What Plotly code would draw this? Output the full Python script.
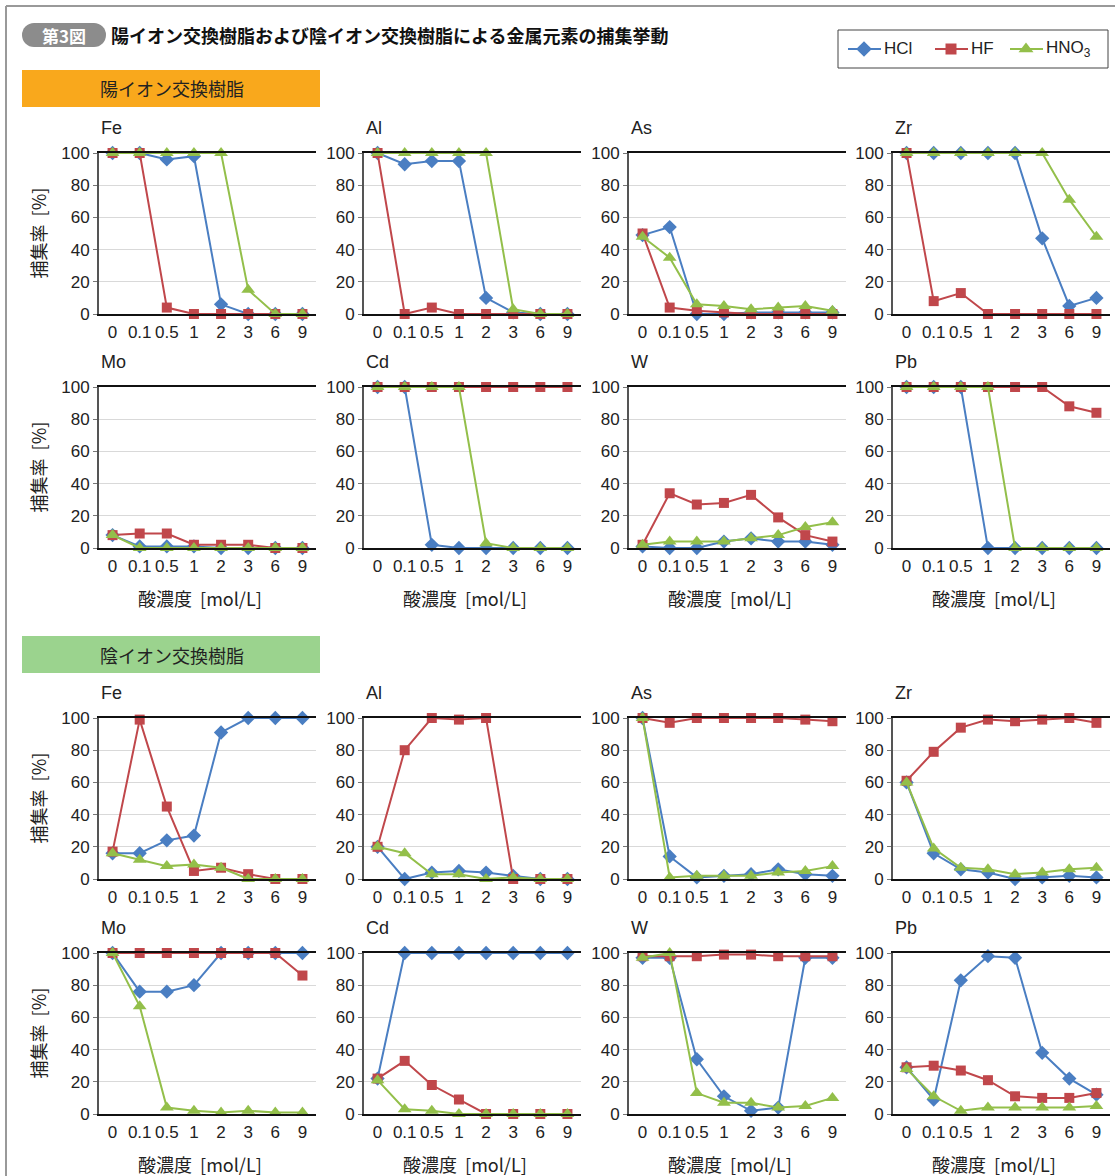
import plotly.graph_objects as go

W, H = 1115, 1176

categories = ["0", "0.1", "0.5", "1", "2", "3", "6", "9"]
elements = ["Fe", "Al", "As", "Zr", "Mo", "Cd", "W", "Pb"]
acids = ["HCl", "HF", "HNO3"]
acid_labels = ["HCl", "HF", "HNO<sub>3</sub>"]

# 陽イオン交換樹脂 (cation exchange resin)
cation_HCl = {
    "Fe": [100, 100, 96, 98, 6, 0, 0, 0],
    "Al": [100, 93, 95, 95, 10, 1, 0, 0],
    "As": [49, 54, 0, 0, 1, 1, 1, 1],
    "Zr": [100, 100, 100, 100, 100, 47, 5, 10],
    "Mo": [8, 1, 1, 1, 0, 0, 0, 0],
    "Cd": [100, 100, 2, 0, 0, 0, 0, 0],
    "W":  [1, 0, 0, 4, 6, 4, 4, 2],
    "Pb": [100, 100, 100, 0, 0, 0, 0, 0],
}
cation_HF = {
    "Fe": [100, 100, 4, 0, 0, 0, 0, 0],
    "Al": [100, 0, 4, 0, 0, 0, 0, 0],
    "As": [50, 4, 2, 1, 0, 0, 0, 0],
    "Zr": [100, 8, 13, 0, 0, 0, 0, 0],
    "Mo": [8, 9, 9, 2, 2, 2, 0, 0],
    "Cd": [100, 100, 100, 100, 100, 100, 100, 100],
    "W":  [2, 34, 27, 28, 33, 19, 8, 4],
    "Pb": [100, 100, 100, 100, 100, 100, 88, 84],
}
cation_HNO3 = {
    "Fe": [100, 100, 100, 100, 100, 15, 0, 0],
    "Al": [100, 100, 100, 100, 100, 3, 0, 0],
    "As": [48, 35, 6, 5, 3, 4, 5, 2],
    "Zr": [100, 100, 100, 100, 100, 100, 71, 48],
    "Mo": [8, 0, 0, 0, 0, 0, 0, 0],
    "Cd": [100, 100, 100, 100, 3, 0, 0, 0],
    "W":  [2, 4, 4, 4, 6, 8, 13, 16],
    "Pb": [100, 100, 100, 100, 0, 0, 0, 0],
}

# 陰イオン交換樹脂 (anion exchange resin)
anion_HCl = {
    "Fe": [16, 16, 24, 27, 91, 100, 100, 100],
    "Al": [20, 0, 4, 5, 4, 2, 0, 0],
    "As": [100, 14, 1, 2, 3, 6, 3, 2],
    "Zr": [60, 16, 6, 4, 0, 1, 2, 1],
    "Mo": [100, 76, 76, 80, 100, 100, 100, 100],
    "Cd": [22, 100, 100, 100, 100, 100, 100, 100],
    "W":  [97, 97, 34, 11, 2, 4, 97, 97],
    "Pb": [29, 9, 83, 98, 97, 38, 22, 12],
}
anion_HF = {
    "Fe": [17, 99, 45, 5, 7, 3, 0, 0],
    "Al": [20, 80, 100, 99, 100, 0, 0, 0],
    "As": [100, 97, 100, 100, 100, 100, 99, 98],
    "Zr": [61, 79, 94, 99, 98, 99, 100, 97],
    "Mo": [100, 100, 100, 100, 100, 100, 100, 86],
    "Cd": [22, 33, 18, 9, 0, 0, 0, 0],
    "W":  [98, 98, 98, 99, 99, 98, 98, 98],
    "Pb": [29, 30, 27, 21, 11, 10, 10, 13],
}
anion_HNO3 = {
    "Fe": [16, 12, 8, 9, 7, 0, 0, 0],
    "Al": [20, 16, 3, 3, 0, 1, 0, 0],
    "As": [100, 1, 2, 2, 2, 4, 5, 8],
    "Zr": [60, 19, 7, 6, 3, 4, 6, 7],
    "Mo": [100, 67, 4, 2, 1, 2, 1, 1],
    "Cd": [21, 3, 2, 0, 0, 0, 0, 0],
    "W":  [97, 100, 13, 7, 7, 4, 5, 10],
    "Pb": [28, 11, 2, 4, 4, 4, 4, 5],
}

resins = [
    ("陽イオン交換樹脂", [cation_HCl, cation_HF, cation_HNO3]),
    ("陰イオン交換樹脂", [anion_HCl, anion_HF, anion_HNO3]),
]

colors = ["#4A7EC2", "#C0474B", "#93BF4A"]
symbols = ["diamond", "square", "triangle-up"]
msizes = [11, 10, 12]

# layout geometry in pixels
col_left = [99, 364, 629, 893]
panel_w = 217
row_top = [153, 387, 718, 953]
panel_h = 161

LAT = "Liberation Sans, Arial, sans-serif"
TICK_FONT = dict(family=LAT, size=17, color="#222")
JP_FONT = "Noto Sans CJK JP, sans-serif"


def px(x):
    return x / W


def py(y):
    return 1 - y / H


fig = go.Figure()
layout = {}
annotations = []
shapes = []

k = 0
for s, (resin_name, series) in enumerate(resins):
    for e_idx, el in enumerate(elements):
        r = s * 2 + e_idx // 4
        c = e_idx % 4
        k += 1
        xa = "x" if k == 1 else f"x{k}"
        ya = "y" if k == 1 else f"y{k}"
        xname = "xaxis" if k == 1 else f"xaxis{k}"
        yname = "yaxis" if k == 1 else f"yaxis{k}"
        x0 = col_left[c]
        y0 = row_top[r]
        for a in range(3):
            fig.add_trace(go.Scatter(
                x=categories, y=series[a][el],
                mode="lines+markers",
                name=acid_labels[a],
                showlegend=False,
                line=dict(color=colors[a], width=2),
                marker=dict(symbol=symbols[a], size=msizes[a], color=colors[a]),
                cliponaxis=False,
                xaxis=xa, yaxis=ya,
            ))
        layout[xname] = dict(
            domain=[px(x0), px(x0 + panel_w)],
            anchor=ya,
            type="category",
            range=[-0.5, 7.5],
            tickmode="array", tickvals=categories, ticktext=categories,
            tickangle=0, automargin=False, ticklabelstandoff=2,
            showline=True, linecolor="#111", linewidth=2, mirror=True,
            showgrid=False, ticks="", tickfont=TICK_FONT,
            zeroline=False, fixedrange=True,
        )
        layout[yname] = dict(
            domain=[py(y0 + panel_h), py(y0)],
            anchor=xa,
            range=[0, 100],
            tickvals=[0, 20, 40, 60, 80, 100],
            automargin=False,
            showline=True, linecolor="#555", linewidth=2,
            showgrid=True, gridcolor="#D9D9D9", gridwidth=1,
            ticks="outside", ticklen=4, tickcolor="#777",
            tickfont=TICK_FONT, zeroline=False, fixedrange=True,
        )
        # element label
        annotations.append(dict(
            x=px(x0), y=py(y0 - 25), xref="paper", yref="paper",
            text=el, showarrow=False, xanchor="left", yanchor="middle",
            font=dict(family=LAT, size=18, color="#222"),
        ))
        # x-axis title for bottom row of each section
        if r % 2 == 1:
            annotations.append(dict(
                x=px(x0 + panel_w / 2 - 8), y=py(y0 + panel_h + 50), xref="paper", yref="paper",
                text="酸濃度  [mol/L]", showarrow=False, xanchor="center", yanchor="middle",
                font=dict(family=JP_FONT, size=18, color="#222"),
            ))
        # y-axis title for left column
        if c == 0:
            annotations.append(dict(
                x=px(37), y=py(y0 + panel_h / 2), xref="paper", yref="paper",
                text="捕集率  [%]", showarrow=False, textangle=-90,
                xanchor="center", yanchor="middle",
                font=dict(family=JP_FONT, size=18, color="#222"),
            ))

# ---- manual legend (overlay axis in pixel coordinates) ----
k += 1
lx = f"x{k}"
ly = f"y{k}"
layout[f"xaxis{k}"] = dict(domain=[0, 1], range=[0, W], visible=False, fixedrange=True, anchor=ly)
layout[f"yaxis{k}"] = dict(domain=[0, 1], range=[H, 0], visible=False, fixedrange=True, anchor=lx)
legend_line_x0 = [848, 935, 1010]
legend_y = 49
for a in range(3):
    x0 = legend_line_x0[a]
    fig.add_trace(go.Scatter(
        x=[x0, x0 + 16, x0 + 33], y=[legend_y] * 3,
        mode="lines", line=dict(color=colors[a], width=2),
        showlegend=False, hoverinfo="skip", cliponaxis=False,
        xaxis=lx, yaxis=ly,
    ))
    fig.add_trace(go.Scatter(
        x=[x0 + 16], y=[legend_y], mode="markers",
        marker=dict(symbol=symbols[a], size=msizes[a] + 1, color=colors[a]),
        name=acid_labels[a], showlegend=False, cliponaxis=False,
        xaxis=lx, yaxis=ly,
    ))
    annotations.append(dict(
        x=px(x0 + 34), y=py(legend_y), xref="paper", yref="paper",
        text=acid_labels[a], showarrow=False, xanchor="left", yanchor="middle",
        font=dict(family=LAT, size=17, color="#222"),
    ))
shapes.append(dict(type="rect", xref="paper", yref="paper",
                   x0=px(838), x1=px(1108), y0=py(68), y1=py(30),
                   line=dict(color="#444", width=1), fillcolor="rgba(0,0,0,0)"))

# section header boxes
section_boxes = [(70, 107, "#F9A81C"), (636, 673, "#9BD38E")]
for (yt, yb, col), (resin_name, _) in zip(section_boxes, resins):
    shapes.append(dict(type="rect", xref="paper", yref="paper",
                       x0=px(22), x1=px(320), y0=py(yb), y1=py(yt),
                       fillcolor=col, line=dict(width=0), layer="below"))
    annotations.append(dict(
        x=px(172), y=py((yt + yb) / 2), xref="paper", yref="paper",
        text=resin_name, showarrow=False, xanchor="center", yanchor="middle",
        font=dict(family=JP_FONT, size=18, color="#222"),
    ))

# outer frame (top & left)
shapes.append(dict(type="line", xref="paper", yref="paper",
                   x0=px(6), x1=1, y0=py(6), y1=py(6), line=dict(color="#999", width=2)))
shapes.append(dict(type="line", xref="paper", yref="paper",
                   x0=px(6), x1=px(6), y0=py(6), y1=0, line=dict(color="#999", width=2)))

# title pill "第3図"
pill_col = "#8C8C8C"
shapes.append(dict(type="rect", xref="paper", yref="paper",
                   x0=px(34), x1=px(94), y0=py(47), y1=py(23),
                   fillcolor=pill_col, line=dict(width=0)))
shapes.append(dict(type="circle", xref="paper", yref="paper",
                   x0=px(22), x1=px(46), y0=py(47), y1=py(23),
                   fillcolor=pill_col, line=dict(width=0)))
shapes.append(dict(type="circle", xref="paper", yref="paper",
                   x0=px(82), x1=px(106), y0=py(47), y1=py(23),
                   fillcolor=pill_col, line=dict(width=0)))
annotations.append(dict(
    x=px(64), y=py(35), xref="paper", yref="paper", text="<b>第3図</b>",
    showarrow=False, xanchor="center", yanchor="middle",
    font=dict(family=JP_FONT, size=17, color="white"),
))
annotations.append(dict(
    x=px(109), y=py(35), xref="paper", yref="paper",
    text="<b>陽イオン交換樹脂および陰イオン交換樹脂による金属元素の捕集挙動</b>",
    showarrow=False, xanchor="left", yanchor="middle",
    font=dict(family=JP_FONT, size=18, color="#111"),
))

fig.update_layout(
    width=W, height=H,
    margin=dict(l=0, r=0, t=0, b=0, autoexpand=False),
    paper_bgcolor="white", plot_bgcolor="rgba(0,0,0,0)",
    showlegend=False,
    annotations=annotations,
    shapes=shapes,
    **layout,
)

fig.write_html(
    "out.html",
    config={"displayModeBar": False},
    post_script="document.body.style.margin='0';",
)
